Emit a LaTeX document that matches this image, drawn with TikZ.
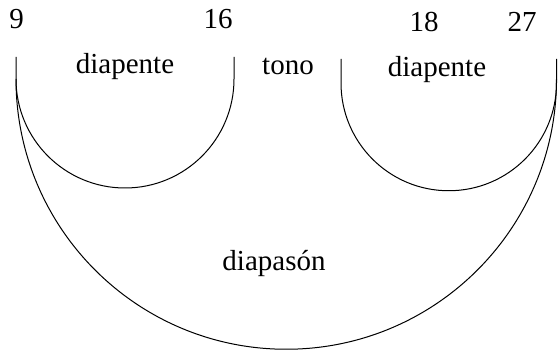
\documentclass[tikz,border=0pt]{standalone}
\usepackage{fontspec}
\setmainfont{Liberation Serif}
\begin{document}
\begin{tikzpicture}[x=1pt,y=1pt,
  lbl/.style={anchor=base,inner sep=0pt,font=\fontsize{29}{31}\selectfont},
  curve/.style={line width=1pt,black}]
\useasboundingbox (0,0) rectangle (558,351);
% labels
\node[lbl] (n9)  at (16.5,322) {9};
\node[lbl] (n16) at (218,322) {16};
\node[lbl] (n18) at (424,319) {18};
\node[lbl] (n27) at (522,319) {27};
\node[lbl] (d1)  at (125,277) {diapente};
\node[lbl] (tono) at (288,276) {tono};
\node[lbl] (d2)  at (437,274) {diapente};
\node[lbl] (dps) at (274,80) {diapasón};
% left U
\draw[curve] (16,294) -- (16,272) arc[start angle=180,end angle=360,radius=109] -- (234,294);
% right U
\draw[curve] (341,292) -- (341,268) arc[start angle=180,end angle=360,radius=107.75] -- (556.5,292);
% big arc
\draw[curve] (16,272) arc[start angle=180,end angle=360,radius=270.25];
\end{tikzpicture}
\end{document}
